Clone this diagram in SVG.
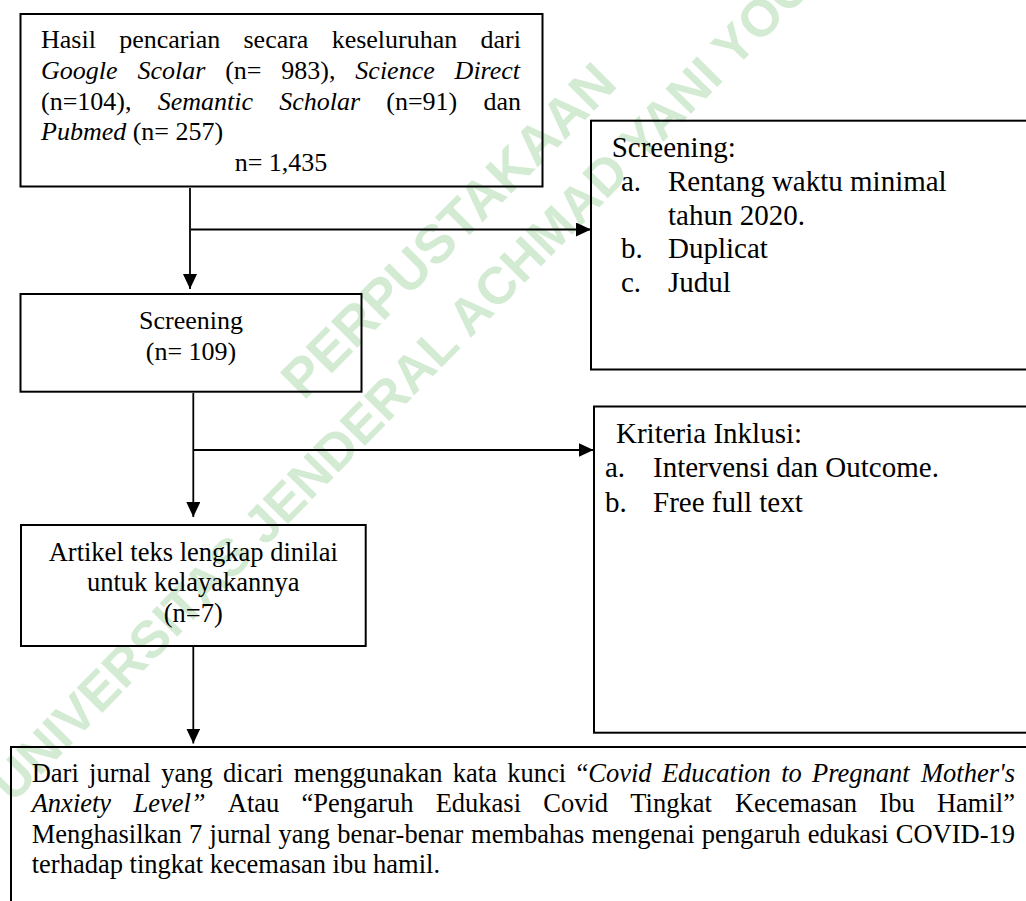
<svg xmlns="http://www.w3.org/2000/svg" width="1026" height="901" viewBox="0 0 1026 901">
<style>
.bx{fill:none;stroke:#000;stroke-width:2}
.cn{fill:none;stroke:#000;stroke-width:1.8}
.t{font-family:"Liberation Serif","Times New Roman",serif;font-size:26px;fill:#000}
.b{font-size:26.5px}
.r{font-size:29px}
.i{font-style:italic}
.c{text-anchor:middle}
.wm{font-family:"Liberation Sans",Arial,sans-serif;font-weight:bold;fill:#d3ebd3}
</style>
<defs>
<marker id="ah" markerUnits="userSpaceOnUse" markerWidth="16" markerHeight="16" refX="15" refY="7" orient="auto"><path d="M0,0 L15,7 L0,14 z" fill="#000"/></marker>
</defs>
<rect width="1026" height="901" fill="#fff"/>
<g id="watermark">
<text class="wm" transform="translate(448,230) rotate(-45)" y="19" font-size="54" text-anchor="middle">PERPUSTAKAAN</text>
<text class="wm" transform="translate(-0.5,791) rotate(-45.5)" x="0" y="18.5" font-size="52">UNIVERSITAS JENDERAL ACHMAD YANI YOGYAKARTA</text>
</g>
<g id="connectors">
<line class="cn" x1="190" y1="188" x2="190" y2="289" marker-end="url(#ah)"/>
<line class="cn" x1="191" y1="229.5" x2="591" y2="229.5" marker-end="url(#ah)"/>
<line class="cn" x1="193.3" y1="393" x2="193.3" y2="517" marker-end="url(#ah)"/>
<line class="cn" x1="194" y1="450" x2="593.5" y2="450" marker-end="url(#ah)"/>
<line class="cn" x1="193.3" y1="647" x2="193.3" y2="743.5" marker-end="url(#ah)"/>
</g>
<g id="n-hasil">
<rect class="bx" x="20.5" y="14" width="522" height="172.5"/>
<text class="t" y="47.5"><tspan x="41">Hasil</tspan><tspan x="119.15">pencarian</tspan><tspan x="243.47">secara</tspan><tspan x="331.68">keseluruhan</tspan><tspan x="480.57">dari</tspan></text>
<text class="t" y="78.5"><tspan x="41" class="i">Google</tspan><tspan x="137.4" class="i">Scolar</tspan><tspan x="225.15">(n=</tspan><tspan x="281.33">983),</tspan><tspan x="355.35" class="i">Science</tspan><tspan x="454.61" class="i">Direct</tspan></text>
<text class="t" y="109.5"><tspan x="41">(n=104),</tspan><tspan x="157.68" class="i">Semantic</tspan><tspan x="279.2" class="i">Scholar</tspan><tspan x="386.29">(n=91)</tspan><tspan x="483.47">dan</tspan></text>
<text class="t" x="41" y="140"><tspan class="i">Pubmed</tspan> (n= 257)</text>
<text class="t c" x="281" y="170.5">n= 1,435</text>
</g>
<g id="n-screening-criteria">
<rect class="bx" x="591" y="120.7" width="500" height="248.8"/>
<text class="t r" x="611.7" y="157.3">Screening:</text>
<text class="t r" y="191"><tspan x="621">a.</tspan><tspan x="668">Rentang waktu minimal</tspan></text>
<text class="t r" x="668" y="224.5">tahun 2020.</text>
<text class="t r" y="258"><tspan x="621">b.</tspan><tspan x="668">Duplicat</tspan></text>
<text class="t r" y="291.7"><tspan x="621">c.</tspan><tspan x="668">Judul</tspan></text>
</g>
<g id="n-screening">
<rect class="bx" x="20.5" y="294" width="341" height="97.7"/>
<text class="t c" x="191" y="329">Screening</text>
<text class="t c" x="191" y="360">(n= 109)</text>
</g>
<g id="n-inklusi">
<rect class="bx" x="594" y="406.5" width="500" height="326.2"/>
<text class="t r" x="616" y="443.3">Kriteria Inklusi:</text>
<text class="t r" y="477.3"><tspan x="605">a.</tspan><tspan x="653">Intervensi dan Outcome.</tspan></text>
<text class="t r" y="511.5"><tspan x="605">b.</tspan><tspan x="653">Free full text</tspan></text>
</g>
<g id="n-artikel">
<rect class="bx" x="21" y="525" width="344.7" height="121"/>
<text class="t b c" x="193.3" y="560.5">Artikel teks lengkap dinilai</text>
<text class="t b c" x="193.3" y="591">untuk kelayakannya</text>
<text class="t b c" x="193.3" y="621.5">(n=7)</text>
</g>
<g id="n-hasil-akhir">
<rect class="bx" x="11" y="747" width="1100" height="300"/>
<text class="t b" y="781.7"><tspan x="31.7">Dari</tspan><tspan x="89.12">jurnal</tspan><tspan x="161.27">yang</tspan><tspan x="223.12">dicari</tspan><tspan x="293.79">menggunakan</tspan><tspan x="452.79">kata</tspan><tspan x="507.27">kunci</tspan><tspan x="576.48">“</tspan><tspan class="i">Covid</tspan><tspan x="661.88" class="i">Education</tspan><tspan x="781.15" class="i">to</tspan><tspan x="812.1" class="i">Pregnant</tspan><tspan x="921.06" class="i">Mother's</tspan></text>
<text class="t b" y="812.3"><tspan x="31.7" class="i">Anxiety</tspan><tspan x="133.41" class="i">Level”</tspan><tspan x="227.78">Atau</tspan><tspan x="301.54">“Pengaruh</tspan><tspan x="435.64">Edukasi</tspan><tspan x="543.26">Covid</tspan><tspan x="630.29">Tingkat</tspan><tspan x="734.97">Kecemasan</tspan><tspan x="879.35">Ibu</tspan><tspan x="936.91">Hamil”</tspan></text>
<text class="t b" y="842.7"><tspan x="31.7">Menghasilkan</tspan><tspan x="189.06">7</tspan><tspan x="209.52">jurnal</tspan><tspan x="278.55">yang</tspan><tspan x="337.28">benar-benar</tspan><tspan x="471.03">membahas</tspan><tspan x="591.58">mengenai</tspan><tspan x="701.82">pengaruh</tspan><tspan x="807.64">edukasi</tspan><tspan x="895.81">COVID-19</tspan></text>
<text class="t b" x="31.7" y="873">terhadap tingkat kecemasan ibu hamil.</text>
</g>
</svg>
